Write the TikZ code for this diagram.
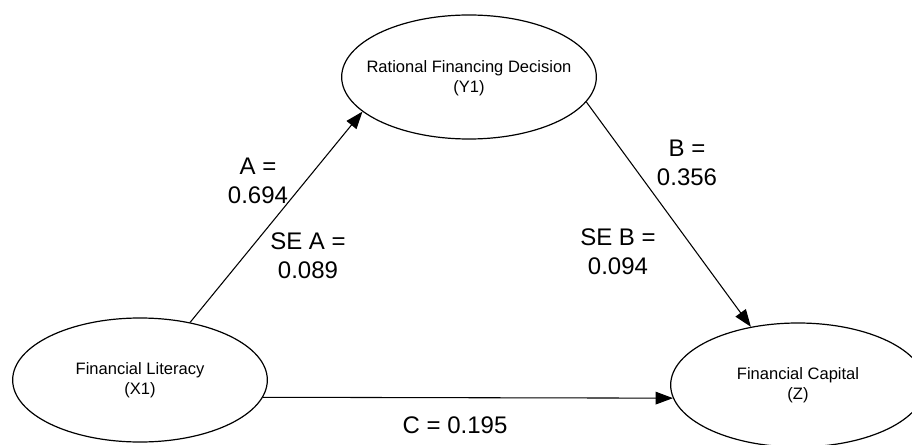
\documentclass[tikz,border=0pt]{standalone}
\usepackage{fontspec}
\setmainfont{Liberation Sans}
\usetikzlibrary{shapes.geometric,arrows.meta}
\begin{document}
\begin{tikzpicture}[x=0.75pt,y=-0.75pt,
    var/.style={draw,ellipse,minimum width=191pt,minimum height=93pt,line width=0.9pt},
    vartext/.style={align=center,font=\fontsize{12.4}{15}\selectfont},
    effect/.style={-{Triangle[length=13pt,width=9.5pt]},line width=0.8pt},
    coef/.style={align=center,font=\fontsize{18}{21.5}\selectfont}]
    \useasboundingbox (0,0) rectangle (912,445);

    \node[var,label={[vartext,yshift=-1pt]center:Rational Financing Decision\\(Y1)}] (Y1) at (469,77) {};
    \node[var,label={[vartext]center:Financial Literacy\\(X1)}] (X1) at (140,380) {};
    \node[var,label={[vartext]center:Financial Capital\\(Z)}] (Z) at (798,385) {};

    \draw[effect] (X1.49) -- (Y1.198);
    \draw[effect] (Y1.-12) -- (Z.129);
    \draw[effect] (X1.-8) -- (Z.186);

    \node[coef] (a) at (258,181) {A =\\0.694};
    \node[coef] (sea) at (308,256) {SE A =\\0.089};
    \node[coef] (b) at (687,163) {B =\\0.356};
    \node[coef] (seb) at (618,252) {SE B =\\0.094};
    \node[coef] (c) at (455,425) {C = 0.195};
\end{tikzpicture}
\end{document}
